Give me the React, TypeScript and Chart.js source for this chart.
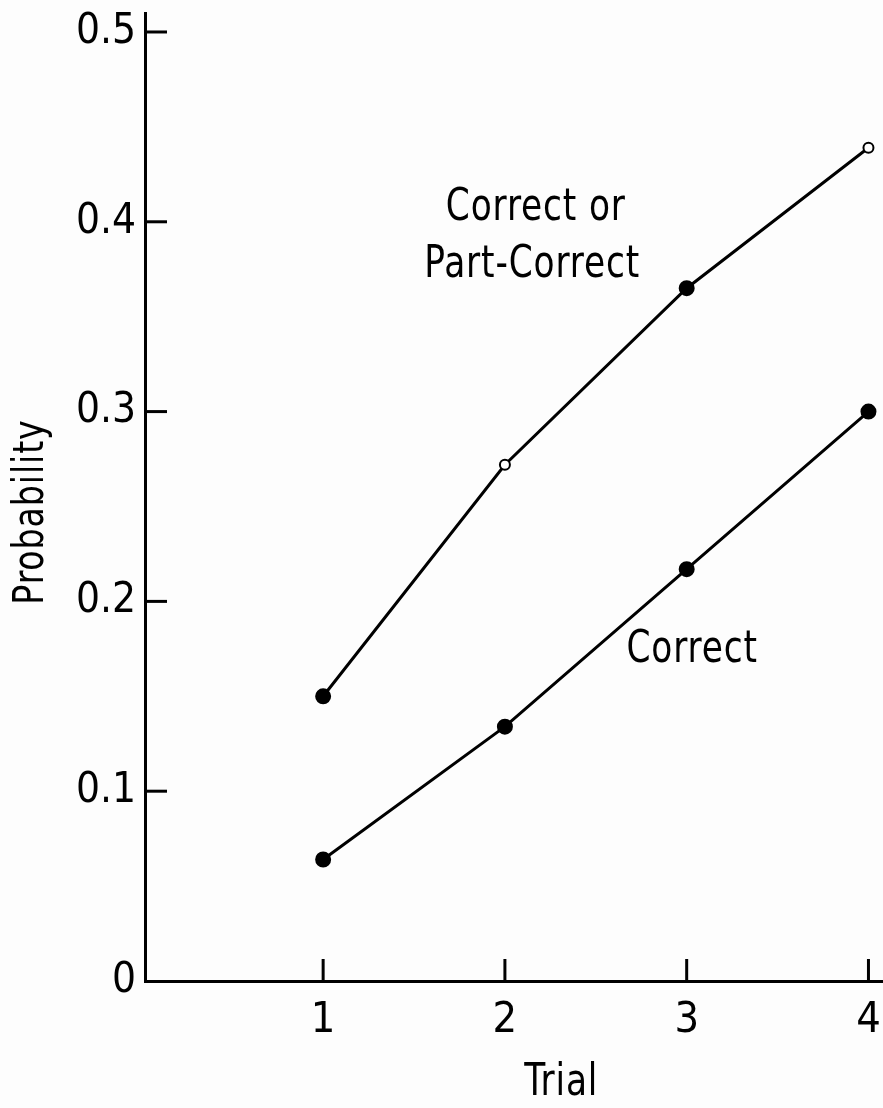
import React, { useEffect, useRef } from 'react';
import { Chart, registerables } from 'chart.js';

Chart.register(...registerables);

// ---- data ----
const trials = [1, 2, 3, 4];
const trialLabels = ['1', '2', '3', '4'];
const correctOrPartCorrect = [0.15, 0.272, 0.365, 0.439];
const correct = [0.064, 0.134, 0.217, 0.3];
const upperMarkerFilled = [true, false, true, false];
const yTicks = [0, 0.1, 0.2, 0.3, 0.4, 0.5];
const yTickLabels = ['0', '0.1', '0.2', '0.3', '0.4', '0.5'];
const upperLabelLines = ['Correct or', 'Part-Correct'];
const lowerLabel = 'Correct';
const xTitle = 'Trial';
const yTitle = 'Probability';

const FONT = '"Liberation Sans Narrow", "DejaVu Sans Condensed", "Roboto Condensed", "Liberation Sans", sans-serif';

export default function App() {
  const ref = useRef<HTMLCanvasElement | null>(null);

  useEffect(() => {
    document.body.style.margin = '0';
    const canvas = ref.current;
    if (!canvas) return;

    const drawNarrow = (ctx: CanvasRenderingContext2D, text: string, x: number, y: number, sx: number) => {
      ctx.save();
      ctx.translate(x, y);
      ctx.scale(sx, 1);
      ctx.fillText(text, 0, 0);
      ctx.restore();
    };

    const decorPlugin = {
      id: 'decor',
      beforeDraw(chart: any) {
        const ctx = chart.ctx;
        ctx.save();
        ctx.fillStyle = '#fdfdfd';
        ctx.fillRect(0, 0, chart.width, chart.height);
        ctx.restore();
      },
      afterDraw(chart: any) {
        const ctx = chart.ctx;
        const xs = chart.scales.x;
        const ys = chart.scales.y;
        const area = chart.chartArea;
        ctx.save();
        ctx.strokeStyle = '#000';
        ctx.lineWidth = 3;
        ctx.lineCap = 'butt';
        // inward tick marks
        yTicks.forEach((v) => {
          if (v === 0) return;
          const py = ys.getPixelForValue(v);
          ctx.beginPath();
          ctx.moveTo(area.left, py);
          ctx.lineTo(area.left + 22, py);
          ctx.stroke();
        });
        trials.forEach((t) => {
          const px = xs.getPixelForValue(t);
          ctx.beginPath();
          ctx.moveTo(px, area.bottom);
          ctx.lineTo(px, area.bottom - 22);
          ctx.stroke();
        });
        // annotations
        ctx.fillStyle = '#000';
        ctx.font = `45px ${FONT}`;
        ctx.textAlign = 'center';
        ctx.textBaseline = 'middle';
        (ctx as any).letterSpacing = '1px';
        drawNarrow(ctx, upperLabelLines[0], xs.getPixelForValue(2.17), ys.getPixelForValue(0.407), 0.85);
        drawNarrow(ctx, upperLabelLines[1], xs.getPixelForValue(2.15), ys.getPixelForValue(0.377), 0.85);
        drawNarrow(ctx, lowerLabel, xs.getPixelForValue(3.03), ys.getPixelForValue(0.174), 0.85);
        drawNarrow(ctx, xTitle, xs.getPixelForValue(2.31), area.bottom + 102, 0.85);
        ctx.font = `42px ${FONT}`;
        ctx.translate(32, 512);
        ctx.rotate(-Math.PI / 2);
        ctx.scale(0.88, 1);
        ctx.fillText(yTitle, 0, 0);
        ctx.restore();
      },
    };

    const chart = new Chart(canvas, {
      type: 'line',
      data: {
        datasets: [
          {
            label: 'Correct or Part-Correct',
            data: trials.map((t, i) => ({ x: t, y: correctOrPartCorrect[i] })),
            borderColor: '#000',
            borderWidth: 3,
            pointBackgroundColor: upperMarkerFilled.map((f) => (f ? '#000' : '#fff')),
            pointBorderColor: '#000',
            pointBorderWidth: 2,
            pointRadius: upperMarkerFilled.map((f) => (f ? 7 : 5)),
            tension: 0,
            fill: false,
            clip: false as any,
          },
          {
            label: 'Correct',
            data: trials.map((t, i) => ({ x: t, y: correct[i] })),
            borderColor: '#000',
            borderWidth: 3,
            pointBackgroundColor: '#000',
            pointBorderColor: '#000',
            pointBorderWidth: 2,
            pointRadius: 7,
            tension: 0,
            fill: false,
            clip: false as any,
          },
        ],
      },
      options: {
        animation: false,
        responsive: false,
        maintainAspectRatio: false,
        devicePixelRatio: 1,
        layout: { autoPadding: false, padding: { top: 13, right: 0, left: 0, bottom: 0 } },
        plugins: {
          legend: { display: false },
          tooltip: { enabled: false },
          title: { display: false },
        },
        events: [],
        scales: {
          x: {
            type: 'linear',
            min: 0.02,
            max: 4.08,
            grid: { display: false, drawTicks: false },
            border: { display: true, color: '#000', width: 3 },
            afterBuildTicks: (scale: any) => {
              scale.ticks = trials.map((t) => ({ value: t }));
            },
            afterFit: (scale: any) => {
              scale.height = 127;
              scale.paddingLeft = 0;
              scale.paddingRight = 0;
            },
            ticks: {
              color: '#000',
              font: { family: FONT, size: 43 },
              padding: 14,
              maxRotation: 0,
              autoSkip: false,
              callback: (v: any) => {
                const i = trials.indexOf(Number(v));
                return i >= 0 ? trialLabels[i] : '';
              },
            },
          },
          y: {
            type: 'linear',
            min: 0,
            max: 0.51,
            grid: { display: false, drawTicks: false },
            border: { display: true, color: '#000', width: 3 },
            afterBuildTicks: (scale: any) => {
              scale.ticks = yTicks.map((v) => ({ value: v }));
            },
            afterFit: (scale: any) => {
              scale.width = 145;
              scale.paddingTop = 0;
              scale.paddingBottom = 0;
            },
            ticks: {
              color: '#000',
              font: { family: FONT, size: 42 },
              padding: 9,
              autoSkip: false,
              callback: (v: any) => {
                const i = yTicks.findIndex((t) => Math.abs(t - Number(v)) < 1e-9);
                return i >= 0 ? yTickLabels[i] : '';
              },
            },
          },
        },
      },
      plugins: [decorPlugin],
    });

    return () => {
      chart.destroy();
    };
  }, []);

  return (
    <div style={{ width: 883, height: 1108 }}>
      <canvas ref={ref} width={883} height={1108} style={{ display: 'block', width: 883, height: 1108 }} />
    </div>
  );
}
